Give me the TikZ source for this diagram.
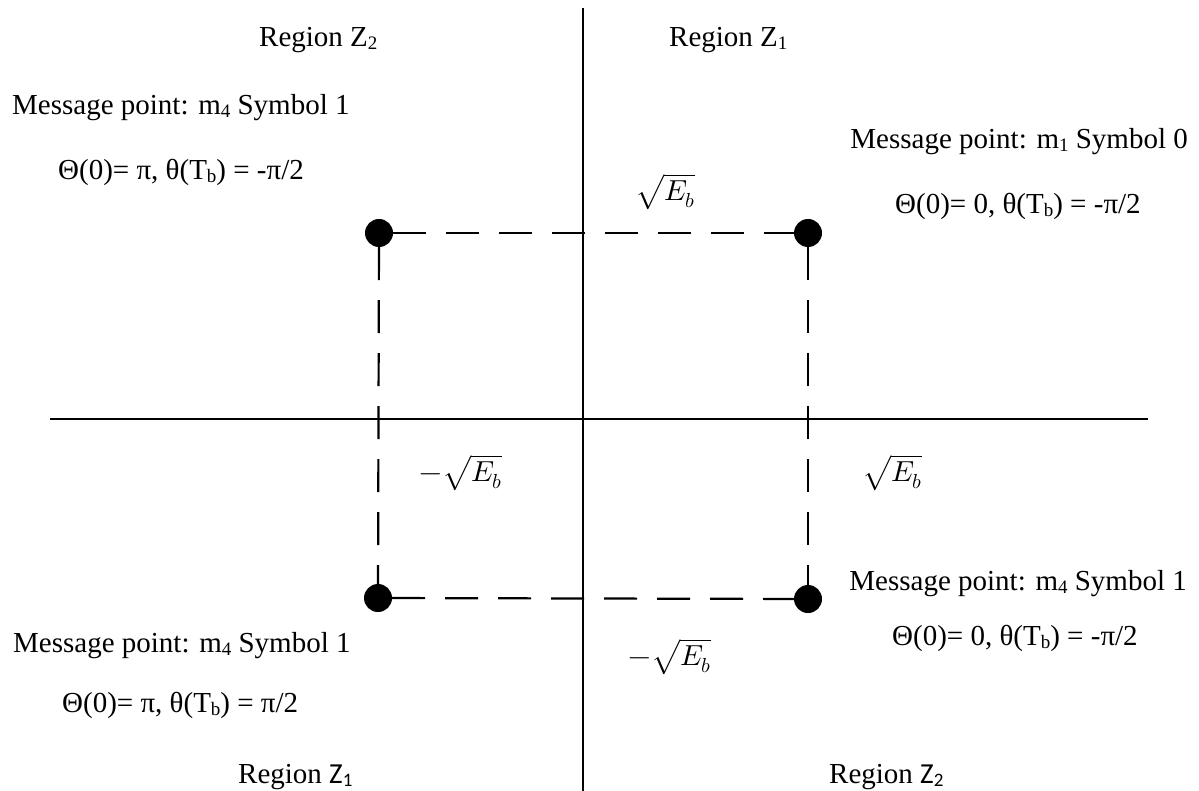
\documentclass[tikz,border=0pt]{standalone}
\usepackage{fontspec}
\usepackage{unicode-math}
\setmainfont{Liberation Serif}
\newfontfamily\calib{Carlito}
\newcommand{\sbs}[1]{\raisebox{-3pt}{\fontsize{19}{19}\selectfont #1}}
\tikzset{
  txt/.style={inner sep=0pt, font=\fontsize{29}{34}\selectfont},
  dot/.style={circle, fill=black, draw=none, minimum size=28pt, inner sep=0pt},
  axis/.style={line width=2.2pt, black},
  dashln/.style={line width=2.2pt, black, dash pattern=on 33pt off 20pt},
}
\begin{document}
\begin{tikzpicture}[x=1pt, y=-1pt]
\useasboundingbox (0,0) rectangle (1199,791);
% axes
\coordinate (vt) at (583,8);
\coordinate (vb) at (583,791);
\coordinate (hl) at (50,419);
\coordinate (hr) at (1148,419);
\draw[axis] (vt) -- (vb);
\draw[axis] (hl) -- (hr);
% message points
\node[dot] (A) at (379,233) {};
\node[dot] (B) at (808,233) {};
\node[dot] (C) at (378,598) {};
\node[dot] (D) at (808,599) {};
\draw[dashln] (A) -- (B);
\draw[dashln] (A) -- (C);
\draw[dashln] (B) -- (D);
\draw[dashln] (C) -- (D);
% region labels
\node[txt, anchor=base west] (rz2t) at (259,47) {Region Z\sbs{2}};
\node[txt, anchor=base west] (rz1t) at (669,47) {Region Z\sbs{1}};
\node[txt, anchor=base west] (rz1b) at (238,783) {Region {\calib Z\sbs{1}}};
\node[txt, anchor=base west] (rz2b) at (829,783) {Region {\calib Z\sbs{2}}};
% top-left
\node[txt, anchor=base west] (mtl) at (12,115) {Message point: m\sbs{4} Symbol 1};
\node[txt, anchor=base west] (ttl) at (58,180) {Θ(0)= π, θ(T\sbs{b}) = -π/2};
% top-right
\node[txt, anchor=base east] (mtr) at (1188,149) {Message point: m\sbs{1} Symbol 0};
\node[txt, anchor=base west] (ttr) at (895,214) {Θ(0)= 0, θ(T\sbs{b}) = -π/2};
% bottom-right
\node[txt, anchor=base east] (mbr) at (1187,590) {Message point: m\sbs{4} Symbol 1};
\node[txt, anchor=base west] (tbr) at (892,645) {Θ(0)= 0, θ(T\sbs{b}) = -π/2};
% bottom-left
\node[txt, anchor=base west] (mbl) at (13,652) {Message point: m\sbs{4} Symbol 1};
\node[txt, anchor=base west] (tbl) at (62,712) {Θ(0)= π, θ(T\sbs{b}) = π/2};
% sqrt labels
\node[txt] (st) at (665,192) {$\sqrt{E_b}$};
\node[txt] (sl) at (461,473) {$-\sqrt{E_b}$};
\node[txt] (sr) at (892,473) {$\sqrt{E_b}$};
\node[txt] (sb) at (670,657) {$-\sqrt{E_b}$};
\end{tikzpicture}
\end{document}
